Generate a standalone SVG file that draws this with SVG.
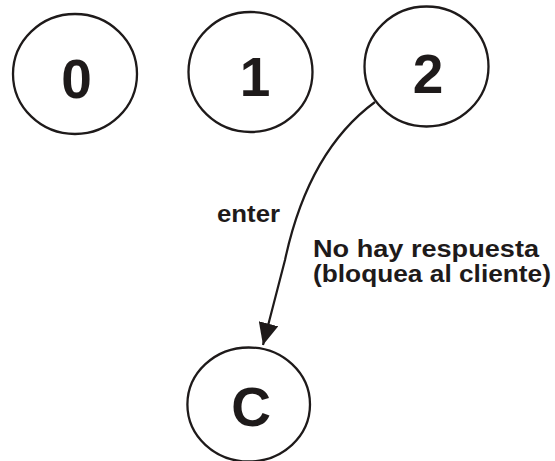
<svg xmlns="http://www.w3.org/2000/svg" width="555" height="461" viewBox="0 0 555 461">
  <style>
    .state { fill: #ffffff; stroke: #1e1a1a; stroke-width: 2.3; }
    .num { font-family: "Liberation Sans", Arial, sans-serif; font-weight: bold; font-size: 55px; fill: #1e1a1a; text-anchor: middle; }
    .lbl { font-family: "Liberation Sans", Arial, sans-serif; font-weight: bold; font-size: 23px; fill: #1e1a1a; }
    .edge { fill: none; stroke: #1e1a1a; stroke-width: 2.2; }
  </style>
  <defs>
    <marker id="arrow" markerUnits="userSpaceOnUse" viewBox="0 0 22 20" refX="22" refY="10" markerWidth="22" markerHeight="20" orient="auto">
      <path d="M0,0 L22,10 L0,20 z" fill="#1e1a1a"/>
    </marker>
  </defs>
  <rect width="555" height="461" fill="#ffffff"/>

  <g id="connectors">
    <path class="edge" d="M375,102 C330,135 300,190 285,260 L263,345" marker-end="url(#arrow)"/>
    <text class="lbl" x="217" y="222" textLength="63" lengthAdjust="spacingAndGlyphs">enter</text>
    <text class="lbl" x="313" y="257" textLength="226" lengthAdjust="spacingAndGlyphs">No hay respuesta</text>
    <text class="lbl" x="313" y="282" textLength="238" lengthAdjust="spacingAndGlyphs">(bloquea al cliente)</text>
  </g>

  <g id="state-0">
    <ellipse class="state" cx="75" cy="74" rx="62" ry="60"/>
    <text class="num" x="76.5" y="98">0</text>
  </g>
  <g id="state-1">
    <ellipse class="state" cx="250.5" cy="72" rx="62" ry="60"/>
    <text class="num" x="255" y="96">1</text>
  </g>
  <g id="state-2">
    <ellipse class="state" cx="426.5" cy="66.5" rx="62" ry="60"/>
    <text class="num" x="428" y="93">2</text>
  </g>
  <g id="state-C">
    <ellipse class="state" cx="248.7" cy="404.5" rx="61.3" ry="57"/>
    <text class="num" x="251" y="426">C</text>
  </g>
</svg>
